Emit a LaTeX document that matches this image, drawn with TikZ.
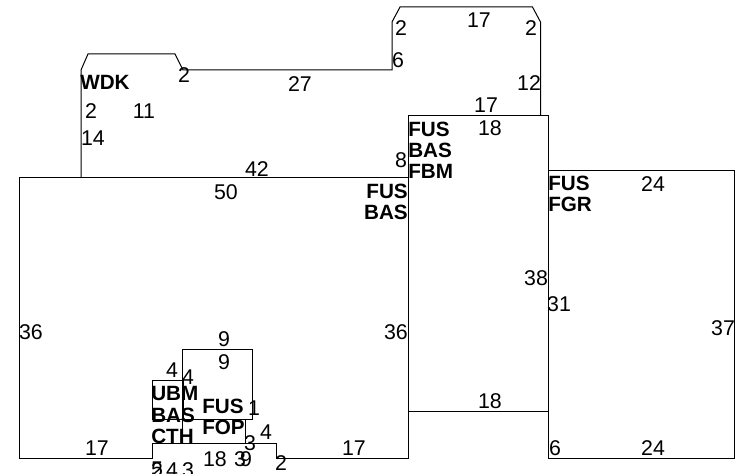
\documentclass[tikz,border=0pt]{standalone}
\usepackage{fontspec}
\setmainfont{Liberation Sans}
\begin{document}
\begin{tikzpicture}[x=0.75pt,y=-0.75pt]

\tikzstyle{wall}=[draw=black,line width=0.75pt]
\tikzstyle{num}=[inner sep=0pt,yshift=-0.5pt,font=\fontsize{16}{16}\selectfont]
\tikzstyle{tag}=[inner sep=0pt,align=left,font=\fontsize{15.5}{16}\selectfont\bfseries]

\useasboundingbox (0,0) rectangle (740,474);

% outlines
\draw [wall] (81,178) -- (81,70) -- (88,54) -- (175,54) -- (183,70) -- (392,70) -- (392,22) -- (400,7) -- (532.5,7) -- (540.5,22) -- (540.5,116);
\draw [wall] (408,116) rectangle (548,411);
\draw [wall] (548,170.5) rectangle (734.7,458);
\draw [wall] (19,178) -- (408,178) -- (408,458) -- (276,458) -- (276,443) -- (152,443) -- (152,458) -- (19,458) -- cycle;
\draw [wall] (152,381) rectangle (183,419);
\draw [wall] (182.5,349.5) rectangle (252.5,419.5);
\draw [wall] (182.5,419.5) -- (182.5,443);
\draw [wall] (245,419.5) -- (245,443);

% upper part
\node (wdk) [tag,anchor=west] at (80,82) {WDK};
\node (n1) [num] at (184,74) {2};
\node (n2) [num] at (300,83) {27};
\node (n3) [num] at (91,110) {2};
\node (n4) [num] at (144,110) {11};
\node (n5) [num] at (93,137) {14};
\node (n6) [num] at (401,27) {2};
\node (n7) [num] at (479,19) {17};
\node (n8) [num] at (531,27) {2};
\node (n9) [num] at (398,59) {6};
\node (n10) [num] at (529,82) {12};
\node (n11) [num] at (486,104) {17};

% middle block
\node (fbm) [tag,anchor=north west] at (408,121.5) {FUS\\BAS\\FBM};
\node (n12) [num] at (490,127) {18};
\node (n13) [num] at (401,159) {8};
\node (n14) [num] at (536,277) {38};
\node (n15) [num] at (490,400) {18};

% right block
\node (fgr) [tag,anchor=north west] at (548,175.5) {FUS\\FGR};
\node (n16) [num] at (653,183) {24};
\node (n17) [num] at (559,303) {31};
\node (n18) [num] at (723,327) {37};
\node (n19) [num] at (555,447) {6};
\node (n20) [num] at (653,447) {24};

% left block
\node (bas) [tag,anchor=north east,align=right] at (408,183.5) {FUS\\BAS};
\node (n21) [num] at (257,168) {42};
\node (n22) [num] at (226,191) {50};
\node (n23) [num] at (31,331) {36};
\node (n24) [num] at (396,331) {36};
\node (n25) [num] at (97,447) {17};
\node (n26) [num] at (354,447) {17};

% small rooms
\node (n27) [num] at (224,338) {9};
\node (n28) [num] at (224,361) {9};
\node (n29) [num] at (172,369) {4};
\node (n30) [num] at (188,376) {4};
\node (ubm) [tag,anchor=north west] at (151,386.5) {UBM\\BAS\\CTH};
\node (fop) [tag,anchor=north west] at (202,398.5) {FUS\\FOP};
\node (n31) [num] at (254,407) {1};
\node (n32) [num] at (266,431) {4};
\node (n33) [num] at (250,442) {3};
\node (n34) [num] at (215,458) {18};
\node (n35) [num] at (240,458) {3};
\node (n36) [num] at (246,458) {9};
\node (n37) [num] at (281,462) {2};
\node (n38) [num] at (157,469) {5};
\node (n39) [num] at (157,469) {2};
\node (n40) [num] at (172,469) {4};
\node (n41) [num] at (188,469) {3};

\end{tikzpicture}
\end{document}
